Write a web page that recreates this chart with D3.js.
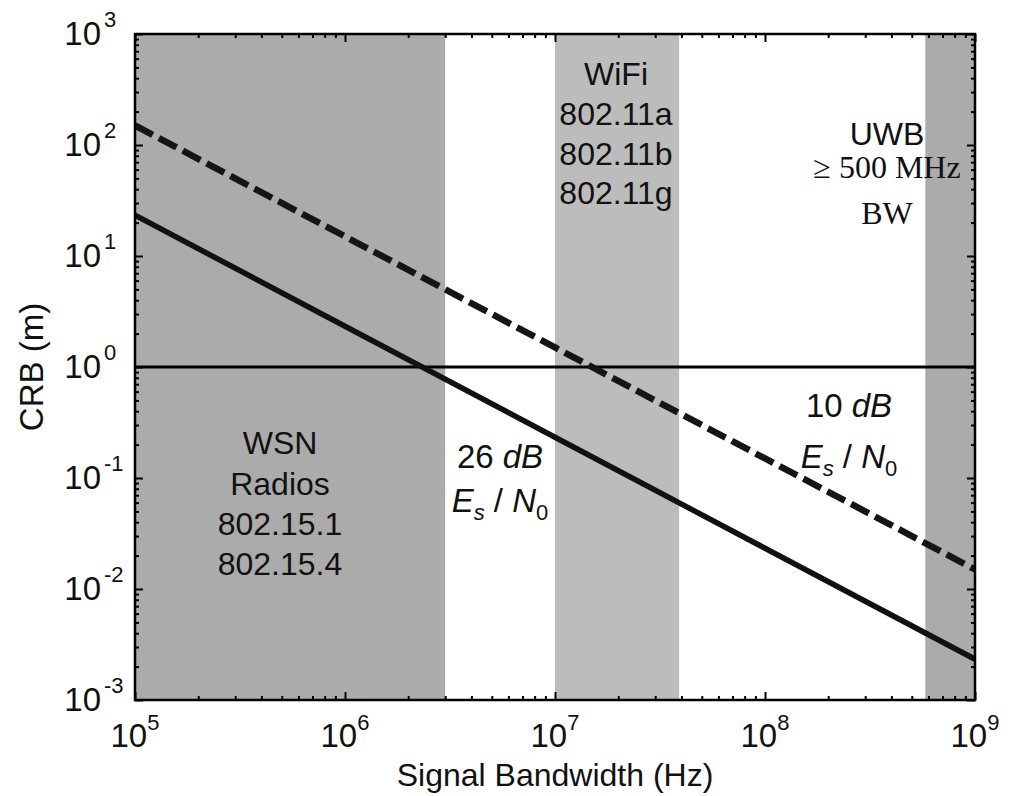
<!DOCTYPE html>
<html>
<head>
<meta charset="utf-8">
<script src="https://cdn.jsdelivr.net/npm/d3@7"></script>
<style>
  body { margin: 0; background: #fff; }
  text { font-family: "Liberation Sans", Arial, sans-serif; fill: #111; }
</style>
</head>
<body>
<div id="chart"></div>
<script>
// Data
const bandwidth = [1e5, 1e6, 1e7, 1e8, 1e9];
const crb26dB = [23.3, 2.33, 0.233, 0.0233, 0.00233];
const crb10dB = [150, 15, 1.5, 0.15, 0.015];
const thresholdX = [1e5, 1e9];
const thresholdY = [1, 1];

const bandNames = ["WSN", "WiFi", "UWB"];
const bandStart = [1e5, 1e7, 5.8e8];
const bandEnd = [3e6, 3.9e7, 1e9];
const bandColors = ["#ababab", "#bcbcbc", "#ababab"];

const xTicks = [1e5, 1e6, 1e7, 1e8, 1e9];
const yTicks = [1e-3, 1e-2, 1e-1, 1e0, 1e1, 1e2, 1e3];

const dims = {
    width: 1011,
    height: 796,
    margin: { top: 34, right: 36, bottom: 96, left: 135 },
};
dims.w = dims.width - dims.margin.left - dims.margin.right;
dims.h = dims.height - dims.margin.top - dims.margin.bottom;

const svg = d3.select("#chart")
    .append("svg")
    .attr("width", dims.width)
    .attr("height", dims.height);

const g = svg.append("g")
    .attr("transform", `translate(${dims.margin.left},${dims.margin.top})`);

const x = d3.scaleLog().domain([1e5, 1e9]).range([0, dims.w]);
const y = d3.scaleLog().domain([1e-3, 1e3]).range([dims.h, 0]);

svg.append("defs").append("clipPath").attr("id", "clip")
    .append("rect").attr("width", dims.w).attr("height", dims.h);

// Shaded bands
g.selectAll("rect.band")
    .data(bandNames)
    .join("rect")
    .attr("class", "band")
    .attr("x", (d, i) => x(bandStart[i]))
    .attr("width", (d, i) => x(bandEnd[i]) - x(bandStart[i]))
    .attr("y", 0)
    .attr("height", dims.h)
    .attr("fill", (d, i) => bandColors[i]);

// Lines
const line = d3.line().x(d => x(d[0])).y(d => y(d[1]));
const plot = g.append("g").attr("clip-path", "url(#clip)");

plot.append("path")
    .datum(d3.zip(thresholdX, thresholdY))
    .attr("d", line)
    .attr("fill", "none")
    .attr("stroke", "#000")
    .attr("stroke-width", 3);

plot.append("path")
    .datum(d3.zip(bandwidth, crb26dB))
    .attr("d", line)
    .attr("fill", "none")
    .attr("stroke", "#111")
    .attr("stroke-width", 5.5);

plot.append("path")
    .datum(d3.zip(bandwidth, crb10dB))
    .attr("d", line)
    .attr("fill", "none")
    .attr("stroke", "#151515")
    .attr("stroke-width", 6.5)
    .attr("stroke-dasharray", "20,7");

// Axes: ticks inside on all four sides
const minorX = [];
const minorY = [];
for (let e = 5; e < 9; e++) for (let k = 2; k < 10; k++) minorX.push(k * 10 ** e);
for (let e = -3; e < 3; e++) for (let k = 2; k < 10; k++) minorY.push(k * 10 ** e);

const noLabel = () => "";
g.append("g").call(d3.axisBottom(x).tickValues(xTicks).tickSize(-8).tickFormat(noLabel))
    .attr("transform", `translate(0,${dims.h})`);
g.append("g").call(d3.axisBottom(x).tickValues(minorX).tickSize(-4).tickFormat(noLabel))
    .attr("transform", `translate(0,${dims.h})`);
g.append("g").call(d3.axisTop(x).tickValues(xTicks).tickSize(-8).tickFormat(noLabel));
g.append("g").call(d3.axisTop(x).tickValues(minorX).tickSize(-4).tickFormat(noLabel));
g.append("g").call(d3.axisLeft(y).tickValues(yTicks).tickSize(-8).tickFormat(noLabel));
g.append("g").call(d3.axisLeft(y).tickValues(minorY).tickSize(-4).tickFormat(noLabel));
g.append("g").call(d3.axisRight(y).tickValues(yTicks).tickSize(-8).tickFormat(noLabel))
    .attr("transform", `translate(${dims.w},0)`);
g.append("g").call(d3.axisRight(y).tickValues(minorY).tickSize(-4).tickFormat(noLabel))
    .attr("transform", `translate(${dims.w},0)`);

g.selectAll(".domain").remove();
g.selectAll(".tick line").attr("stroke", "#000").attr("stroke-width", 2);

g.append("rect")
    .attr("width", dims.w)
    .attr("height", dims.h)
    .attr("fill", "none")
    .attr("stroke", "#000")
    .attr("stroke-width", 2.5);

// Tick labels
const expo = v => Math.round(Math.log10(v));

xTicks.forEach(v => {
    const t = g.append("text")
        .attr("x", x(v))
        .attr("y", dims.h + 47)
        .attr("text-anchor", "middle")
        .style("font-size", "33px");
    t.append("tspan").text("10");
    t.append("tspan").attr("dy", -17).style("font-size", "22px").text(expo(v));
});

yTicks.forEach(v => {
    g.append("text")
        .attr("x", -34)
        .attr("y", y(v) + 11)
        .attr("text-anchor", "end")
        .style("font-size", "33px")
        .text("10");
    g.append("text")
        .attr("x", -31)
        .attr("y", y(v) - 7)
        .style("font-size", "22px")
        .text(expo(v));
});

// Axis titles
svg.append("text")
    .attr("x", dims.margin.left + dims.w / 2)
    .attr("y", 786)
    .attr("text-anchor", "middle")
    .style("font-size", "32px")
    .text("Signal Bandwidth (Hz)");

svg.append("text")
    .attr("transform", `translate(43,${dims.margin.top + y(1)}) rotate(-90)`)
    .attr("text-anchor", "middle")
    .style("font-size", "33px")
    .text("CRB (m)");

// Annotations
function block(lines, cx, baselines, size, family) {
    lines.forEach((s, i) => {
        g.append("text")
            .attr("x", cx - dims.margin.left)
            .attr("y", baselines[i] - dims.margin.top)
            .attr("text-anchor", "middle")
            .style("font-size", size)
            .style("font-family", family || null)
            .text(s);
    });
}

block(["WSN", "Radios", "802.15.1", "802.15.4"], 280, [454, 495, 535, 575], "32px");
block(["WiFi", "802.11a", "802.11b", "802.11g"], 616, [85, 125, 165, 204], "32px");
block(["UWB"], 887, [145], "32px");
block(["\u2265 500 MHz", "BW"], 887, [178, 224], "32px", "'Liberation Serif', 'Times New Roman', serif");

function snr(db, cx, y1, y2) {
    const a = g.append("text")
        .attr("x", cx - dims.margin.left)
        .attr("y", y1 - dims.margin.top)
        .attr("text-anchor", "middle")
        .style("font-size", "33px");
    a.append("tspan").text(db + " ");
    a.append("tspan").style("font-style", "italic").text("dB");

    const b = g.append("text")
        .attr("x", cx - dims.margin.left)
        .attr("y", y2 - dims.margin.top)
        .attr("text-anchor", "middle")
        .style("font-size", "33px");
    b.append("tspan").style("font-style", "italic").text("E");
    b.append("tspan").style("font-style", "italic").style("font-size", "22px").attr("dy", 8).text("s");
    b.append("tspan").attr("dy", -8).text(" / ");
    b.append("tspan").style("font-style", "italic").text("N");
    b.append("tspan").style("font-size", "22px").attr("dy", 8).text("0");
}

snr(26, 500, 468, 512);
snr(10, 849, 417, 468);
</script>
</body>
</html>
